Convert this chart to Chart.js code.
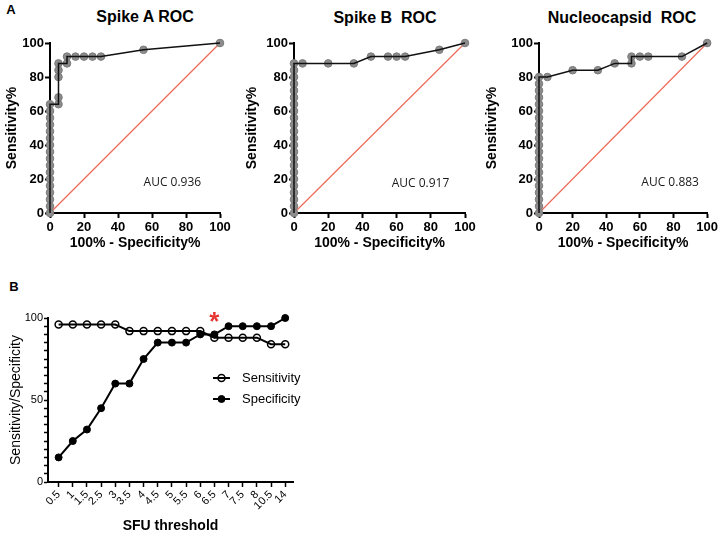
<!DOCTYPE html>
<html>
<head>
<meta charset="utf-8">
<script src="https://cdn.jsdelivr.net/npm/chart.js@4.4.1/dist/chart.umd.min.js"></script>
<style>
  body { margin: 0; background: #fff; }
  #wrap { position: relative; width: 720px; height: 536px; overflow: hidden; font-family: 'Liberation Sans', Arial, sans-serif; color: #000; }
  canvas { position: absolute; }
  .lbl { position: absolute; font-weight: bold; white-space: pre; transform: translate(-50%, -50%); }
</style>
</head>
<body>
<div id="wrap">
  <div class="lbl" style="left:11px;top:9px;font-size:13px">A</div>
  <div class="lbl" style="left:14px;top:286px;font-size:13px">B</div>
  <div class="lbl" style="left:145px;top:17px;font-size:16px">Spike A ROC</div>
  <div class="lbl" style="left:385px;top:18px;font-size:16px">Spike B  ROC</div>
  <div class="lbl" style="left:622px;top:18px;font-size:16px">Nucleocapsid  ROC</div>
  <canvas id="rocA" width="240" height="256" style="left:0;top:0"></canvas>
  <canvas id="rocB" width="240" height="256" style="left:240px;top:0"></canvas>
  <canvas id="rocN" width="240" height="256" style="left:480px;top:0"></canvas>
  <canvas id="threshold" width="380" height="256" style="left:0;top:280px"></canvas>
</div>
<script>
const FONT = "'Liberation Sans', Arial, sans-serif";

// ROC data: x = 100% - specificity%, y = sensitivity%
const spikeAX = [0, 0, 0, 0, 0, 0, 0, 0, 0, 0, 0, 0, 0, 0, 0, 0, 0, 5, 5, 5, 5, 5, 10, 10, 15, 20, 25, 30, 55, 100];
const spikeAY = [0, 4, 8, 12, 16, 20, 24, 28, 32, 36, 40, 44, 48, 52, 56, 60, 64, 64, 68, 80, 84, 88, 88, 92, 92, 92, 92, 92, 96, 100];

const spikeBX = [0, 0, 0, 0, 0, 0, 0, 0, 0, 0, 0, 0, 0, 0, 0, 0, 0, 0, 0, 0, 0, 0, 0, 5, 20, 35, 45, 55, 60, 65, 85, 100];
const spikeBY = [0, 4, 8, 12, 16, 20, 24, 28, 32, 36, 40, 44, 48, 52, 56, 60, 64, 68, 72, 76, 80, 84, 88, 88, 88, 88, 92, 92, 92, 92, 96, 100];

const nucX = [0, 0, 0, 0, 0, 0, 0, 0, 0, 0, 0, 0, 0, 0, 0, 0, 0, 0, 0, 0, 0, 5, 20, 35, 45, 55, 55, 60, 65, 85, 100];
const nucY = [0, 4, 8, 12, 16, 20, 24, 28, 32, 36, 40, 44, 48, 52, 56, 60, 64, 68, 72, 76, 80, 80, 84, 84, 88, 88, 92, 92, 92, 92, 100];

const diagX = [0, 100];
const diagY = [0, 100];

const aucLabels = ['AUC 0.936', 'AUC 0.917', 'AUC 0.883'];
const aucPosX = [72, 74, 78];
const aucPosY = [18, 17.5, 18];

// Panel B
const thresholds = ['0.5', '1', '1.5', '2.5', '3', '3.5', '4', '4.5', '5', '5.5', '6', '6.5', '7', '7.5', '8', '10.5', '14'];
const sensitivity = [96, 96, 96, 96, 96, 92, 92, 92, 92, 92, 92, 88, 88, 88, 88, 84, 84];
const specificity = [15, 25, 32, 45, 60, 60, 75, 85, 85, 85, 90, 90, 95, 95, 95, 95, 100];
const bestThreshold = '6.5';

function toPoints(xs, ys) {
    return xs.map((x, i) => ({ x: x, y: ys[i] }));
}

// AUC text placed in data coordinates
const aucPlugin = {
    id: 'aucText',
    afterDatasetsDraw(chart, args, opts) {
        if (!opts.text) return;
        const ctx = chart.ctx;
        ctx.save();
        ctx.font = "12px 'Open Sans', sans-serif";
        ctx.fillStyle = '#1a1a1a';
        ctx.textAlign = 'center';
        ctx.textBaseline = 'middle';
        ctx.fillText(opts.text, chart.scales.x.getPixelForValue(opts.x), chart.scales.y.getPixelForValue(opts.y));
        ctx.restore();
    }
};

function axisStyle() {
    return {
        grid: { drawOnChartArea: false, drawTicks: true, tickLength: 5, tickWidth: 2, tickColor: '#000' },
        border: { display: true, color: '#000', width: 2 }
    };
}

function makeRoc(id, xs, ys, idx, axisWidth, padRight) {
    const pts = toPoints(xs, ys);
    return new Chart(document.getElementById(id), {
        type: 'scatter',
        data: {
            datasets: [
                {
                    data: toPoints(diagX, diagY),
                    showLine: true,
                    borderColor: '#ee6a58',
                    borderWidth: 1.2,
                    pointRadius: 0,
                    clip: false,
                    order: 2
                },
                {
                    data: pts,
                    showLine: false,
                    pointRadius: 3.8,
                    pointBackgroundColor: '#8c8c8c',
                    pointBorderColor: '#7a7a7a',
                    pointBorderWidth: 1,
                    clip: false,
                    order: 1
                },
                {
                    data: pts,
                    showLine: true,
                    borderColor: '#111',
                    borderWidth: 1.5,
                    pointRadius: 0,
                    clip: false,
                    order: 0
                }
            ]
        },
        options: {
            responsive: false,
            animation: false,
            events: [],
            layout: { padding: { top: 43, right: padRight, left: 0, bottom: 0 } },
            plugins: {
                legend: { display: false },
                tooltip: { enabled: false },
                aucText: { text: aucLabels[idx], x: aucPosX[idx], y: aucPosY[idx] }
            },
            scales: {
                x: {
                    type: 'linear', min: 0, max: 100,
                    ticks: { stepSize: 20, color: '#000', padding: 2, maxRotation: 0,
                             font: { family: FONT, size: 13, weight: 'bold' } },
                    ...axisStyle(),
                    title: { display: true, text: '100% - Specificity%', color: '#000',
                             padding: { top: 0, bottom: 4 },
                             font: { family: FONT, size: 14, weight: 'bold' } },
                    afterFit: s => { s.height = 43; }
                },
                y: {
                    type: 'linear', min: 0, max: 100,
                    ticks: { stepSize: 20, color: '#000', padding: 1,
                             font: { family: FONT, size: 13, weight: 'bold' } },
                    ...axisStyle(),
                    title: { display: true, text: 'Sensitivity%', color: '#000',
                             padding: { top: 4, bottom: 0 },
                             font: { family: FONT, size: 14, weight: 'bold' } },
                    afterFit: s => { s.width = axisWidth; }
                }
            }
        },
        plugins: [aucPlugin]
    });
}

makeRoc('rocA', spikeAX, spikeAY, 0, 50, 20);
makeRoc('rocB', spikeBX, spikeBY, 1, 54, 15);
makeRoc('rocN', nucX, nucY, 2, 59, 11);

// Legend for panel B: line sample through the marker
const legendB = {
    id: 'legendB',
    afterDatasetsDraw(chart) {
        const ctx = chart.ctx;
        ctx.save();
        chart.data.datasets.forEach((ds, i) => {
            const y = 98 + i * 21;
            ctx.strokeStyle = ds.borderColor;
            ctx.lineWidth = ds.borderWidth;
            ctx.beginPath();
            ctx.moveTo(213, y);
            ctx.lineTo(230, y);
            ctx.stroke();
            ctx.beginPath();
            ctx.arc(221.5, y, ds.pointRadius, 0, Math.PI * 2);
            ctx.fillStyle = ds.pointBackgroundColor;
            ctx.fill();
            ctx.lineWidth = ds.pointBorderWidth;
            ctx.strokeStyle = ds.pointBorderColor;
            ctx.stroke();
            ctx.fillStyle = '#000';
            ctx.font = '13px ' + FONT;
            ctx.textAlign = 'left';
            ctx.textBaseline = 'middle';
            ctx.fillText(ds.label, 242, y);
        });
        ctx.restore();
    }
};

// red asterisk above the chosen threshold
const starPlugin = {
    id: 'star',
    afterDatasetsDraw(chart) {
        const ctx = chart.ctx;
        const x = chart.scales.x.getPixelForValue(thresholds.indexOf(bestThreshold));
        const y = chart.scales.y.getPixelForValue(100) + 12;
        ctx.save();
        ctx.fillStyle = '#e53935';
        ctx.font = 'bold 26px ' + FONT;
        ctx.textAlign = 'center';
        ctx.textBaseline = 'alphabetic';
        ctx.fillText('*', x, y);
        ctx.restore();
    }
};

new Chart(document.getElementById('threshold'), {
    type: 'scatter',
    data: {
        datasets: [
            {
                label: 'Sensitivity',
                data: toPoints(thresholds.map((t, i) => i), sensitivity),
                showLine: true,
                borderColor: '#000',
                borderWidth: 2,
                pointRadius: 3.5,
                pointBackgroundColor: 'rgba(255,255,255,0)',
                pointBorderColor: '#000',
                pointBorderWidth: 1.5,
                clip: false
            },
            {
                label: 'Specificity',
                data: toPoints(thresholds.map((t, i) => i), specificity),
                showLine: true,
                borderColor: '#000',
                borderWidth: 2,
                pointRadius: 3.5,
                pointBackgroundColor: '#000',
                pointBorderColor: '#000',
                pointBorderWidth: 1,
                clip: false
            }
        ]
    },
    options: {
        responsive: false,
        animation: false,
        events: [],
        layout: { padding: { top: 38, right: 87, left: 0, bottom: 0 } },
        plugins: { legend: { display: false }, tooltip: { enabled: false } },
        scales: {
            x: {
                type: 'linear', min: -0.75, max: 16.55,
                afterBuildTicks: s => { s.ticks = thresholds.map((t, i) => ({ value: i })); },
                ticks: { autoSkip: false, maxRotation: 45, minRotation: 45, color: '#000', padding: 1,
                         callback: v => thresholds[v],
                         font: { family: FONT, size: 11 } },
                grid: { drawOnChartArea: false, tickLength: 5, tickWidth: 1.5, tickColor: '#000' },
                border: { display: true, color: '#000', width: 2 },
                title: { display: true, text: 'SFU threshold', color: '#000',
                         padding: { top: 0, bottom: 1 },
                         font: { family: FONT, size: 14, weight: 'bold' } },
                afterFit: s => { s.height = 54; }
            },
            y: {
                type: 'linear', min: 0, max: 100,
                ticks: { stepSize: 5, autoSkip: false, color: '#000', padding: 1,
                         callback: v => (v % 50 === 0 ? v : ''),
                         font: { family: FONT, size: 11 } },
                grid: { drawOnChartArea: false, tickLength: 4, tickWidth: 1.5, tickColor: '#000' },
                border: { display: true, color: '#000', width: 2 },
                title: { display: true, text: 'Sensitivity/Specificity', color: '#000',
                         padding: { top: 8, bottom: 0 },
                         font: { family: FONT, size: 14 } },
                afterFit: s => { s.width = 48; }
            }
        }
    },
    plugins: [legendB, starPlugin]
});
</script>
</body>
</html>
